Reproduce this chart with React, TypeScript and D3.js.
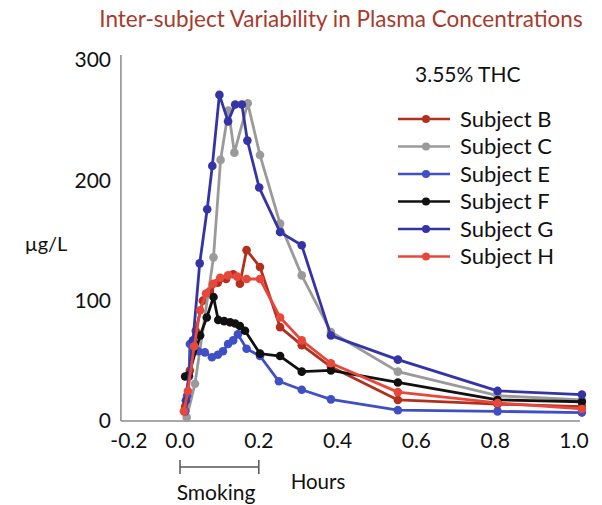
import React from "react";
import * as d3 from "d3";

const title = "Inter-subject Variability in Plasma Concentrations";
const subtitle = "3.55% THC";
const xTicks = [-0.2, 0, 0.2, 0.4, 0.6, 0.8, 1.0];
const yTicks = [0, 100, 200, 300];

const subjectNames = ["Subject B", "Subject C", "Subject E", "Subject F", "Subject G", "Subject H"];
const subjectColors = ["#b3301f", "#9a9a9a", "#3f4fc6", "#111111", "#3434a6", "#e8483b"];

const bTime = [0.013, 0.025, 0.04, 0.058, 0.076, 0.096, 0.117, 0.135, 0.152, 0.169, 0.203, 0.254, 0.309, 0.383, 0.553, 0.806, 1.02];
const bConc = [12, 42, 75, 100, 108, 115, 118, 122, 114, 142, 128, 78, 63, 45, 17.5, 14, 12];

const cTime = [0.017, 0.038, 0.085, 0.103, 0.123, 0.138, 0.172, 0.203, 0.254, 0.309, 0.383, 0.553, 0.806, 1.02];
const cConc = [3, 31, 136, 217, 258, 223, 264, 221, 164, 121, 74, 41, 21, 17.5];

const eTime = [0.013, 0.018, 0.023, 0.025, 0.046, 0.063, 0.081, 0.096, 0.109, 0.122, 0.135, 0.147, 0.169, 0.203, 0.251, 0.309, 0.383, 0.553, 0.806, 1.02];
const eConc = [8, 21, 37, 64, 58, 57, 53, 55, 58, 64, 67, 72, 60, 54, 33, 26, 18, 9, 8, 7];

const fTime = [0.013, 0.022, 0.051, 0.068, 0.085, 0.097, 0.112, 0.127, 0.14, 0.152, 0.165, 0.203, 0.254, 0.309, 0.383, 0.553, 0.806, 1.02];
const fConc = [37, 38, 71, 86, 103, 84, 83, 82, 81, 79, 75, 56, 54, 41, 42, 32, 17.5, 16];

const gTime = [0.015, 0.033, 0.05, 0.069, 0.082, 0.1, 0.122, 0.14, 0.157, 0.171, 0.201, 0.254, 0.309, 0.383, 0.553, 0.806, 1.02];
const gConc = [17, 67, 131, 176, 212, 271, 249, 263, 263, 233, 194, 157, 146, 71, 51, 25, 22];

const hTime = [0.01, 0.02, 0.036, 0.051, 0.066, 0.084, 0.102, 0.122, 0.145, 0.169, 0.203, 0.254, 0.309, 0.383, 0.553, 0.806, 1.02];
const hConc = [8, 25, 62, 92, 106, 114, 119, 121, 120, 118, 118, 86, 67, 48, 24, 15, 10];

const seriesTimes = [bTime, cTime, eTime, fTime, gTime, hTime];
const seriesConcs = [bConc, cConc, eConc, fConc, gConc, hConc];

const FONT = "Lato, 'Open Sans', sans-serif";

export default function App() {
  const W = 602, H = 505;
  const x = d3.scaleLinear().domain([0, 1]).range([180, 574]);
  const xMin = -0.15;
  const xMax = 1.02;
  const y = d3.scaleLinear().domain([0, 300]).range([421, 60]);

  const line = d3
    .line<[number, number]>()
    .x((d) => x(d[0]))
    .y((d) => y(d[1]));

  const series = subjectNames.map((name, i) => ({
    name,
    color: subjectColors[i],
    pts: seriesTimes[i].map((t, j) => [t, seriesConcs[i][j]] as [number, number]),
  }));

  const legendX0 = 398, legendX1 = 450, legendY0 = 119, legendDy = 27.5;

  return (
    <svg width={W} height={H} style={{ position: "absolute", left: 0, top: 0, background: "#fff" }} fontFamily={FONT}>
      <rect width={W} height={H} fill="#fff" />
      <text x={341} y={27} textAnchor="middle" fontSize={22.5} fill="#a83a2c">{title}</text>

      {/* axes */}
      <line x1={x(xMin)} x2={x(xMin)} y1={55} y2={y(0)} stroke="#8a8a8a" strokeWidth={1.5} />
      <line x1={x(xMin)} x2={x(xMax) - 2} y1={y(0)} y2={y(0)} stroke="#8a8a8a" strokeWidth={1.5} />

      {yTicks.map((v) => (
        <text key={v} x={111} y={y(v)} dy="0.35em" textAnchor="end" fontSize={21} fill="#111">{v}</text>
      ))}
      {xTicks.map((v) => (
        <text key={v} x={Math.max(x(v), x(xMin) + 8)} y={441} dy="0.35em" textAnchor="middle" fontSize={21} fill="#111">
          {v.toFixed(1)}
        </text>
      ))}

      <text x={46} y={244} dy="0.35em" textAnchor="middle" fontSize={20} fill="#111">µg/L</text>
      <text x={318} y={482} dy="0.35em" textAnchor="middle" fontSize={20.5} fill="#111">Hours</text>
      <text x={216} y={493} dy="0.35em" textAnchor="middle" fontSize={21} fill="#111">Smoking</text>

      {/* smoking bar */}
      <g stroke="#555" strokeWidth={1.5}>
        <line x1={x(0)} x2={x(0.2)} y1={467} y2={467} />
        <line x1={x(0)} x2={x(0)} y1={460} y2={474} />
        <line x1={x(0.2)} x2={x(0.2)} y1={460} y2={474} />
      </g>

      {series.map((s) => (
        <g key={s.name}>
          <path d={line(s.pts) || ""} fill="none" stroke={s.color} strokeWidth={2.8} strokeLinejoin="round" />
          {s.pts.map((p, j) => (
            <circle key={j} cx={x(p[0])} cy={y(p[1])} r={4.3} fill={s.color} />
          ))}
        </g>
      ))}

      {/* legend */}
      <text x={415} y={75} dy="0.35em" fontSize={21} fill="#111">{subtitle}</text>
      {series.map((s, i) => {
        const ly = legendY0 + i * legendDy;
        return (
          <g key={s.name}>
            <line x1={legendX0} x2={legendX1} y1={ly} y2={ly} stroke={s.color} strokeWidth={2.4} />
            <circle cx={(legendX0 + legendX1) / 2 + 2} cy={ly} r={4} fill={s.color} />
            <text x={460} y={ly} dy="0.35em" fontSize={22} fill="#111">{s.name}</text>
          </g>
        );
      })}
    </svg>
  );
}
